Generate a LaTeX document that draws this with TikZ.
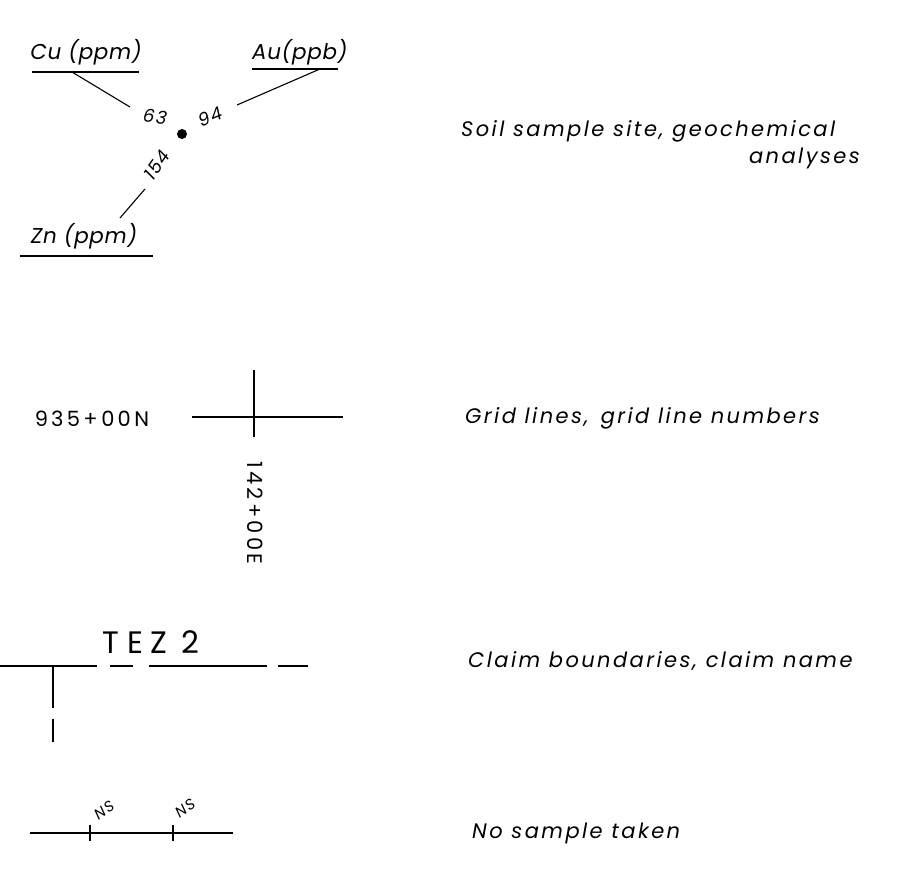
\documentclass[tikz,border=0pt]{standalone}
\usepackage{fontspec}
\newfontfamily\lbl{Poppins}[LetterSpace=11.5]
\newfontfamily\elfont{Poppins}[LetterSpace=3]
\newfontfamily\hand{Poppins}[LetterSpace=9]
\newfontfamily\num{Poppins}[LetterSpace=15]
\newfontfamily\claimfont{Poppins}[LetterSpace=24]
\begin{document}
\begin{tikzpicture}[x=1pt,y=-1pt,
  ln/.style={line width=1.1pt},
  legend/.style={anchor=base west,inner sep=0pt,font=\lbl\itshape\fontsize{21}{21}\selectfont},
  elem/.style={inner sep=0pt,font=\elfont\itshape\fontsize{21.5}{21.5}\selectfont},
  val/.style={inner sep=0pt,font=\hand\itshape\fontsize{18}{18}\selectfont},
  nsval/.style={inner sep=0pt,font=\hand\itshape\fontsize{15}{15}\selectfont},
  gridnum/.style={inner sep=0pt,font=\num\fontsize{21}{21}\selectfont}]
\useasboundingbox (0,0) rectangle (914,875);

% ---- soil sample ----
\node[elem] (cu) at (86,52) {Cu (ppm)};
\node[elem,anchor=west] (au) at (252,52) {Au(ppb)};
\node[elem] (zn) at (84,236) {Zn (ppm)};
\coordinate (cuL) at (32,72); \coordinate (cuR) at (139,72);
\coordinate (auL) at (252,69); \coordinate (auR) at (338,69);
\coordinate (znL) at (20,256); \coordinate (znR) at (153,256);
\draw[ln] (cuL) -- (cuR);
\draw[ln] (auL) -- (auR);
\draw[ln] (znL) -- (znR);
\coordinate (cuA) at (72,72); \coordinate (cuB) at (130,107);
\coordinate (auA) at (237,105); \coordinate (auB) at (320,69);
\coordinate (znA) at (145,189); \coordinate (znB) at (120,218);
\draw[ln] (cuA) -- (cuB);
\draw[ln] (auA) -- (auB);
\draw[ln] (znA) -- (znB);
\fill (182,134) circle (5);
\node[val,rotate=-8] (v63) at (155,117) {63};
\node[val,rotate=22] (v94) at (210,117) {94};
\node[val,rotate=55] (v154) at (157,165) {154};
\node[legend] (t1) at (461,136) {Soil sample site, geochemical};
\node[legend,anchor=base east] (t1b) at (860,164) {analyses};

% ---- grid lines ----
\node[gridnum] (gn) at (92,419) {935\,+\,00\,N};
\coordinate (hL) at (192,417); \coordinate (hR) at (343,417);
\coordinate (vT) at (254,370); \coordinate (vB) at (254,437);
\draw[ln] (hL) -- (hR);
\draw[ln] (vT) -- (vB);
\node[gridnum,rotate=-90] (ge) at (255,513) {142\,+\,00\,E};
\node[legend] (t2) at (465,423) {Grid lines,\, grid line numbers};

% ---- claim ----
\node[inner sep=0pt,font=\claimfont\fontsize{31}{31}\selectfont] (tez) at (151,642) {TEZ\hspace{14pt}2};
\draw[ln] (0,666) -- (97,666);
\draw[ln] (110,666) -- (133,666);
\draw[ln] (149,666) -- (267,666);
\draw[ln] (278,666) -- (308,666);
\draw[ln] (53,666) -- (53,708);
\draw[ln] (53,719) -- (53,742);
\node[legend] (t3) at (468,667) {Claim boundaries, claim name};

% ---- no sample ----
\coordinate (nL) at (30,833); \coordinate (nR) at (233,833);
\draw[ln] (nL) -- (nR);
\draw[line width=1.6pt] (90,825) -- (90,841);
\draw[line width=1.6pt] (173,825) -- (173,841);
\node[nsval,rotate=35] (ns1) at (104,810) {NS};
\node[nsval,rotate=35] (ns2) at (185,808) {NS};
\node[legend] (t4) at (472,838) {No sample taken};
\end{tikzpicture}
\end{document}
